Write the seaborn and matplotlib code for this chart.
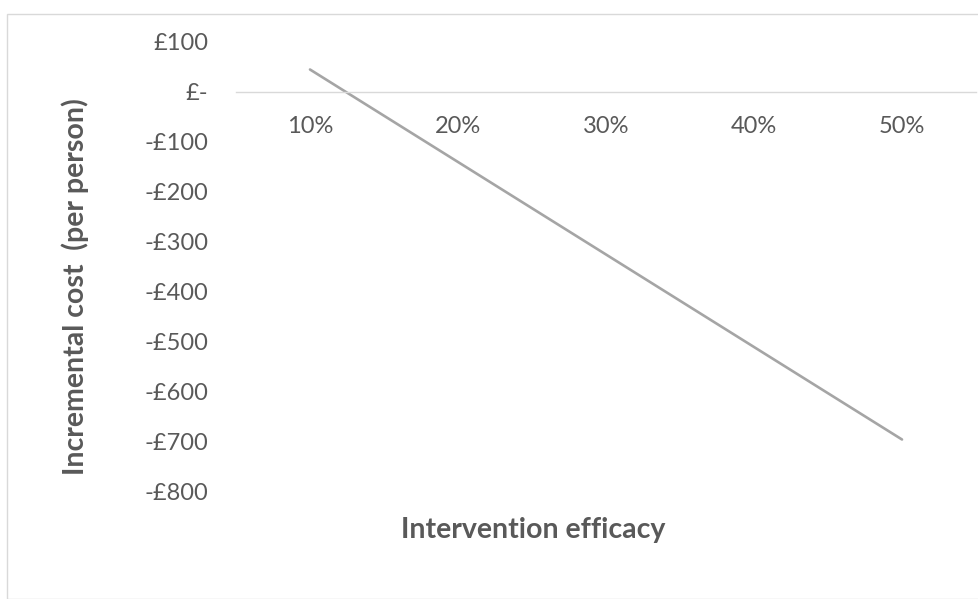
import pandas as pd
import seaborn as sns
import matplotlib.pyplot as plt
from matplotlib.patches import Rectangle
from matplotlib.ticker import FuncFormatter

efficacy = ["10%", "20%", "30%", "40%", "50%"]
incremental_cost = [45, -140, -325, -510, -695]
y_ticks = [100, 0, -100, -200, -300, -400, -500, -600, -700, -800]

df = pd.DataFrame({"efficacy": efficacy, "cost": incremental_cost})

sns.set_theme(style="white")
plt.rcParams['font.family'] = ['Lato', 'DejaVu Sans']

W, H = 979, 599
fig = plt.figure(figsize=(W / 100, H / 100), dpi=100)
ax = fig.add_axes([236 / W, (H - 492) / H, (976 - 236) / W, (492 - 42) / H])

sns.lineplot(data=df, x="efficacy", y="cost", ax=ax, color="#A5A5A5",
             linewidth=1.9, sort=False)

ax.set_xlim(-0.5, 4.5)
ax.set_ylim(-800, 100)
ax.set_yticks(y_ticks)


def money(v, pos):
    if v == 0:
        return "£-"
    if v < 0:
        return "-£{:d}".format(int(-v))
    return "£{:d}".format(int(v))


ax.yaxis.set_major_formatter(FuncFormatter(money))

for s in ["top", "right", "left"]:
    ax.spines[s].set_visible(False)
ax.spines["bottom"].set_position(("data", 0))
ax.spines["bottom"].set_color("#D9D9D9")
ax.spines["bottom"].set_linewidth(1.0)

ax.tick_params(axis="x", length=0, pad=17, labelsize=17, labelcolor="#595959")
ax.tick_params(axis="y", length=0, pad=20, labelsize=17, labelcolor="#595959")
ax.set_xlabel("")
ax.set_ylabel("")

fig.text(75 / W, 1 - 287 / H, "Incremental cost  (per person)", rotation=90,
         ha="center", va="center", fontsize=20.5, fontweight="bold", color="#595959")
fig.text(533 / W, 1 - 530 / H, "Intervention efficacy", ha="center", va="center",
         fontsize=20.5, fontweight="bold", color="#595959")

fig.patches.append(Rectangle((7 / W, 0), 1.2, 1 - 14 / H, transform=fig.transFigure,
                             fill=False, edgecolor="#D9D9D9", linewidth=1.0))

fig.savefig("out.png", dpi=100)
